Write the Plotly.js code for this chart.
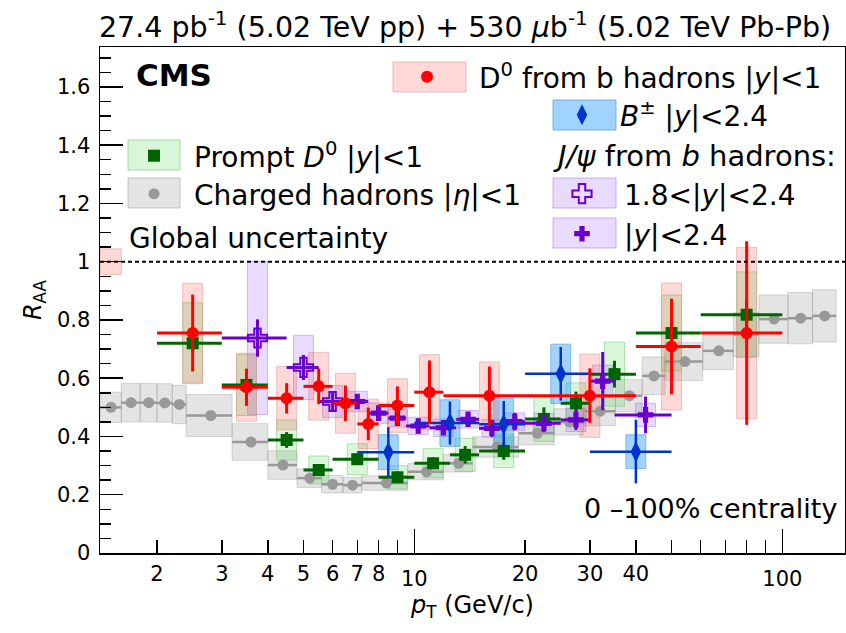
<!DOCTYPE html>
<html><head><meta charset="utf-8">
<script src="https://cdn.plot.ly/plotly-3.0.1.min.js"></script>
<style>html,body{margin:0;padding:0;background:#fff}#chart{width:846px;height:633px}</style>
</head><body><div id="chart"></div>
<script>
// ---------- Charged hadrons |eta|<1 ----------
const hadronLo  = [1.4,1.6,1.8,2.0,2.2,2.4,3.2,4.0,4.8,5.6,6.4,7.2,9.6,12.0,14.4,19.2,24.0,28.8,35.2,41.6,48.0,60.8,73.6,86.4,103.6,120.8];
const hadronHi  = [1.6,1.8,2.0,2.2,2.4,3.2,4.0,4.8,5.6,6.4,7.2,9.6,12.0,14.4,19.2,24.0,28.8,35.2,41.6,48.0,60.8,73.6,86.4,103.6,120.8,140];
const hadronPt  = [1.5,1.7,1.9,2.1,2.3,2.8,3.6,4.4,5.2,6.0,6.8,8.4,10.8,13.2,16.8,21.6,26.4,32.0,38.4,44.8,54.4,67.2,80.0,95.0,112.2,130.4];
const hadronRaa = [0.500,0.516,0.516,0.515,0.510,0.472,0.381,0.302,0.257,0.236,0.233,0.240,0.279,0.308,0.364,0.411,0.450,0.487,0.540,0.608,0.657,0.694,0.750,0.803,0.806,0.814];
const hadronSys = [0.052,0.066,0.066,0.066,0.066,0.072,0.063,0.049,0.032,0.030,0.027,0.025,0.028,0.030,0.035,0.040,0.045,0.050,0.055,0.065,0.065,0.065,0.075,0.083,0.088,0.090];

// ---------- Prompt D0 |y|<1 ----------
const promptPt   = [2.5,3.5,4.5,5.5,7,9,11.25,13.75,17.5,22.5,27.5,35,50,80];
const promptLo   = [2,3,4,5,6,8,10,12.5,15,20,25,30,40,60];
const promptHi   = [3,4,5,6,8,10,12.5,15,20,25,30,40,60,100];
const promptRaa  = [0.720,0.577,0.388,0.285,0.322,0.260,0.308,0.337,0.350,0.460,0.514,0.614,0.755,0.818];
const promptStat = [0.030,0.030,0.027,0.020,0.020,0.020,0.020,0.030,0.030,0.040,0.040,0.046,0.040,0.050];
const promptSys  = [0.139,0.105,0.069,0.048,0.053,0.040,0.050,0.057,0.057,0.077,0.070,0.110,0.130,0.147];

// ---------- D0 from b hadrons |y|<1 ----------
const nonpromptPt   = [2.5,3.5,4.5,5.5,6.5,7.5,9,11,16,30,50,80];
const nonpromptLo   = [2,3,4,5,6,7,8,10,12,20,40,60];
const nonpromptHi   = [3,4,5,6,7,8,10,12,20,40,60,100];
const nonpromptRaa  = [0.755,0.569,0.531,0.572,0.514,0.443,0.506,0.552,0.540,0.540,0.709,0.755];
const nonpromptStat = [0.132,0.064,0.052,0.061,0.061,0.056,0.066,0.109,0.100,0.094,0.164,0.315];
const nonpromptSys  = [0.171,0.117,0.109,0.116,0.103,0.085,0.092,0.129,0.116,0.143,0.218,0.294];
const nonpromptGlobal = 0.044;

// ---------- B+- |y|<2.4 ----------
const bPt   = [8.5,12.5,17.5,25,40];
const bLo   = [7,10,15,20,30];
const bHi   = [10,15,20,30,50];
const bRaa  = [0.346,0.446,0.442,0.615,0.348];
const bStat = [0.086,0.074,0.080,0.092,0.109];
const bSys  = [0.060,0.080,0.090,0.102,0.058];

// ---------- J/psi from b hadrons, 1.8<|y|<2.4 ----------
const jpsiFwdPt   = [3.75,5,6];
const jpsiFwdLo   = [3,4.5,5.5];
const jpsiFwdHi   = [4.5,5.5,6.5];
const jpsiFwdRaa  = [0.738,0.637,0.520];
const jpsiFwdStat = [0.064,0.043,0.033];
const jpsiFwdSys  = [0.263,0.110,0.055];

// ---------- J/psi from b hadrons, |y|<2.4 ----------
const jpsiPt   = [7,8,9,10.25,12,14,16.25,18.75,22.5,27.5,32.5,42.5];
const jpsiLo   = [6.5,7.5,8.5,9.5,11,13,15,17.5,20,25,30,35];
const jpsiHi   = [7.5,8.5,9.5,11,13,15,17.5,20,25,30,35,50];
const jpsiRaa  = [0.520,0.480,0.463,0.436,0.430,0.459,0.428,0.451,0.445,0.457,0.590,0.474];
const jpsiStat = [0.025,0.025,0.025,0.025,0.025,0.025,0.030,0.030,0.030,0.035,0.100,0.063];
const jpsiSys  = [0.035,0.035,0.030,0.030,0.030,0.030,0.030,0.030,0.035,0.040,0.055,0.040];

// ---------- axis ticks ----------
const xMajorTicks  = [10,100];
const xMajorLabels = ['10','100'];
const xSmallTicks  = [2,3,4,5,6,7,8,9,20,30,40,50,60,70,80,90];
const xSmallLabels = ['2','3','4','5','6','7','8','','20','30','40','','','','',''];

// ---------- styling ----------
const FONT = 'DejaVu Sans';
const BOXF = Math.pow(10, 10/368);   // half box width in log space (~10 px)
const XRANGE = [Math.log10(1.4), Math.log10(148)];
const C = {
  red:'#ff0000', green:'#006400', gray:'#999999', blue:'#0033cc', purple:'#6a00cc'
};

function xErr(pt, lo, hi, color, th){
  return {type:'data', symmetric:false, array:hi.map((h,i)=>h-pt[i]),
          arrayminus:lo.map((l,i)=>pt[i]-l), color:color, thickness:th, width:0};
}
function yErr(stat, color, th){
  return {type:'data', array:stat, color:color, thickness:th, width:0};
}
function boxes(pt, raa, sys, fill, line){
  return pt.map((p,i)=>({type:'rect', xref:'x', yref:'y', x0:p/BOXF, x1:p*BOXF,
    y0:raa[i]-sys[i], y1:raa[i]+sys[i], fillcolor:fill, line:{color:line,width:1}, layer:'below'}));
}

const shapes = [];
// hadron boxes span the bin
hadronPt.forEach((p,i)=>shapes.push({type:'rect', xref:'x', yref:'y', x0:hadronLo[i], x1:hadronHi[i],
  y0:hadronRaa[i]-hadronSys[i], y1:hadronRaa[i]+hadronSys[i],
  fillcolor:'rgba(120,120,120,0.20)', line:{color:'rgba(150,150,150,0.35)',width:1}, layer:'below'}));
shapes.push(...boxes(promptPt, promptRaa, promptSys, 'rgba(40,210,40,0.18)', 'rgba(110,200,110,0.5)'));
shapes.push(...boxes(jpsiFwdPt, jpsiFwdRaa, jpsiFwdSys, 'rgba(150,90,255,0.22)', 'rgba(170,130,230,0.5)'));
shapes.push(...boxes(jpsiPt, jpsiRaa, jpsiSys, 'rgba(150,90,255,0.22)', 'rgba(170,130,230,0.5)'));
shapes.push(...boxes(bPt, bRaa, bSys, 'rgba(30,150,255,0.42)', 'rgba(90,150,210,0.6)'));
shapes.push(...boxes(nonpromptPt, nonpromptRaa, nonpromptSys, 'rgba(255,60,60,0.20)', 'rgba(220,150,150,0.5)'));
// global uncertainty box at RAA = 1
shapes.push({type:'rect', xref:'x', yref:'y', x0:hadronLo[0], x1:hadronHi[0], y0:1-nonpromptGlobal, y1:1+nonpromptGlobal,
  fillcolor:'rgba(255,60,60,0.20)', line:{color:'rgba(220,150,150,0.5)',width:1}, layer:'below'});
// unity line
shapes.push({type:'line', xref:'paper', yref:'y', x0:0, x1:1, y0:1, y1:1, line:{color:'#000', width:2, dash:'4px,3px'}, layer:'above'});

// legend background boxes (paper coords)
function pbox(x0,x1,y0,y1,fill,line){
  return {type:'rect', xref:'paper', yref:'paper', x0:(x0-100)/745, x1:(x1-100)/745,
    y0:(553-y1)/506, y1:(553-y0)/506, fillcolor:fill, line:{color:line,width:1}, layer:'above'};
}
shapes.push(pbox(393,466,62,92,'rgba(255,60,60,0.20)','rgba(220,150,150,0.6)'));
shapes.push(pbox(553,616,100,130,'rgba(30,150,255,0.42)','rgba(90,150,210,0.7)'));
shapes.push(pbox(128,180,140,170,'rgba(40,210,40,0.18)','rgba(110,200,110,0.6)'));
shapes.push(pbox(128,180,178,208,'rgba(120,120,120,0.20)','rgba(150,150,150,0.5)'));
shapes.push(pbox(553,616,178,208,'rgba(150,90,255,0.22)','rgba(170,130,230,0.6)'));
shapes.push(pbox(553,616,218,248,'rgba(150,90,255,0.22)','rgba(170,130,230,0.6)'));

const traces = [
  {x:hadronPt, y:hadronRaa, type:'scatter', mode:'markers', name:'Charged hadrons |<i>η</i>|&lt;1', legend:'legend4',
   marker:{symbol:'circle', size:11, color:C.gray}, error_x:xErr(hadronPt,hadronLo,hadronHi,C.gray,2.5)},
  {x:promptPt, y:promptRaa, type:'scatter', mode:'markers', name:'Prompt <i>D</i><sup>0</sup> |<i>y</i>|&lt;1', legend:'legend3',
   marker:{symbol:'square', size:12, color:C.green}, error_x:xErr(promptPt,promptLo,promptHi,C.green,3), error_y:yErr(promptStat,C.green,3)},
  {x:jpsiFwdPt, y:jpsiFwdRaa, type:'scatter', mode:'markers', name:'1.8&lt;|<i>y</i>|&lt;2.4', legend:'legend5',
   marker:{symbol:'cross-open', size:16, color:C.purple, line:{width:2, color:C.purple}}, error_x:xErr(jpsiFwdPt,jpsiFwdLo,jpsiFwdHi,C.purple,3), error_y:yErr(jpsiFwdStat,C.purple,3)},
  {x:jpsiPt, y:jpsiRaa, type:'scatter', mode:'markers', name:'|<i>y</i>|&lt;2.4', legend:'legend6',
   marker:{symbol:'cross', size:13, color:C.purple}, error_x:xErr(jpsiPt,jpsiLo,jpsiHi,C.purple,3), error_y:yErr(jpsiStat,C.purple,3)},
  {x:bPt, y:bRaa, type:'scatter', mode:'markers', name:'<i>B</i><sup>±</sup> |<i>y</i>|&lt;2.4', legend:'legend2',
   marker:{symbol:'diamond-tall', size:15, color:C.blue}, error_x:xErr(bPt,bLo,bHi,C.blue,2.5), error_y:yErr(bStat,C.blue,2.5)},
  {x:nonpromptPt, y:nonpromptRaa, type:'scatter', mode:'markers', name:'D<sup>0</sup> from b hadrons |<i>y</i>|&lt;1', legend:'legend',
   marker:{symbol:'circle', size:12, color:C.red}, error_x:xErr(nonpromptPt,nonpromptLo,nonpromptHi,C.red,3), error_y:yErr(nonpromptStat,C.red,3)},
  {x:[], y:[], xaxis:'x2', type:'scatter', mode:'markers', showlegend:false, hoverinfo:'skip'}
];

function leg(px, py, w){
  return {x:(px-100)/745, y:(553-py)/506, xanchor:'left', yanchor:'middle', bgcolor:'rgba(0,0,0,0)',
    borderwidth:0, itemwidth:w, font:{family:FONT, size:28, color:'#000'}, itemclick:false, itemdoubleclick:false};
}

const layout = {
  width:846, height:633,
  margin:{l:100, r:1, t:47, b:80},
  paper_bgcolor:'#fff', plot_bgcolor:'rgba(0,0,0,0)',
  showlegend:true,
  title:{text:'27.4 pb<sup>-1</sup> (5.02 TeV pp) + 530 <i>μ</i>b<sup>-1</sup> (5.02 TeV Pb-Pb)',
         font:{family:FONT, size:28.5, color:'#000'}, x:0.49, xref:'paper', xanchor:'center',
         y:1-27/633, yref:'container', yanchor:'middle'},
  xaxis:{type:'log', range:XRANGE, showgrid:false, zeroline:false, showline:true, linecolor:'#000', linewidth:1.5, mirror:true,
         ticks:'inside', tickvals:xMajorTicks, ticktext:xMajorLabels, ticklen:24, tickwidth:1.5, tickcolor:'#000',
         tickfont:{family:FONT, size:21, color:'#000'}, ticklabelstandoff:6,
         title:{text:'<i>p</i><sub>T</sub> (GeV/c)', font:{family:FONT, size:24, color:'#000'}, standoff:6}},
  xaxis2:{type:'log', range:XRANGE, overlaying:'x', anchor:'y', side:'bottom', showgrid:false, zeroline:false, showline:false,
         ticks:'inside', tickvals:xSmallTicks, ticktext:xSmallLabels, ticklen:13, tickwidth:1.5, tickcolor:'#000',
         tickfont:{family:FONT, size:21, color:'#000'}, ticklabelstandoff:6},
  yaxis:{range:[0,1.737], dtick:0.2, tick0:0, showgrid:false, zeroline:false, showline:true, linecolor:'#000', linewidth:1.5, mirror:true,
         ticks:'inside', ticklen:23, tickwidth:1.5, tickcolor:'#000',
         minor:{dtick:0.05, ticks:'inside', ticklen:11, tickwidth:1.5, tickcolor:'#000'},
         tickfont:{family:FONT, size:21, color:'#000'}, ticklabelstandoff:4,
         title:{text:'<i>R</i><sub>AA</sub>', font:{family:FONT, size:24, color:'#000'}, standoff:8}},
  shapes:shapes,
  legend: leg(375,77,94),
  legend2:leg(544,115,66),
  legend3:leg(114,156,70),
  legend4:leg(114,194,70),
  legend5:leg(540,194,74),
  legend6:leg(540,234,74),
  annotations:[
    {text:'<b>CMS</b>', xref:'paper', yref:'paper', x:(134-100)/745, y:(553-75)/506, xanchor:'left', yanchor:'middle', showarrow:false,
     font:{family:FONT, size:31, color:'#000'}},
    {text:'Global uncertainty', xref:'paper', yref:'paper', x:(127-100)/745, y:(553-238)/506, xanchor:'left', yanchor:'middle', showarrow:false,
     font:{family:FONT, size:28, color:'#000'}},
    {text:'<i>J/ψ</i> from <i>b</i> hadrons:', xref:'paper', yref:'paper', x:(551-100)/745, y:(553-156)/506, xanchor:'left', yanchor:'middle', showarrow:false,
     font:{family:FONT, size:29, color:'#000'}},
    {text:'0 –100% centrality', xref:'paper', yref:'paper', x:(839-100)/745, y:(553-508)/506, xanchor:'right', yanchor:'middle', showarrow:false,
     font:{family:FONT, size:27, color:'#000'}}
  ]
};

Plotly.newPlot('chart', traces, layout, {staticPlot:true, displayModeBar:false});
</script>
</body></html>
